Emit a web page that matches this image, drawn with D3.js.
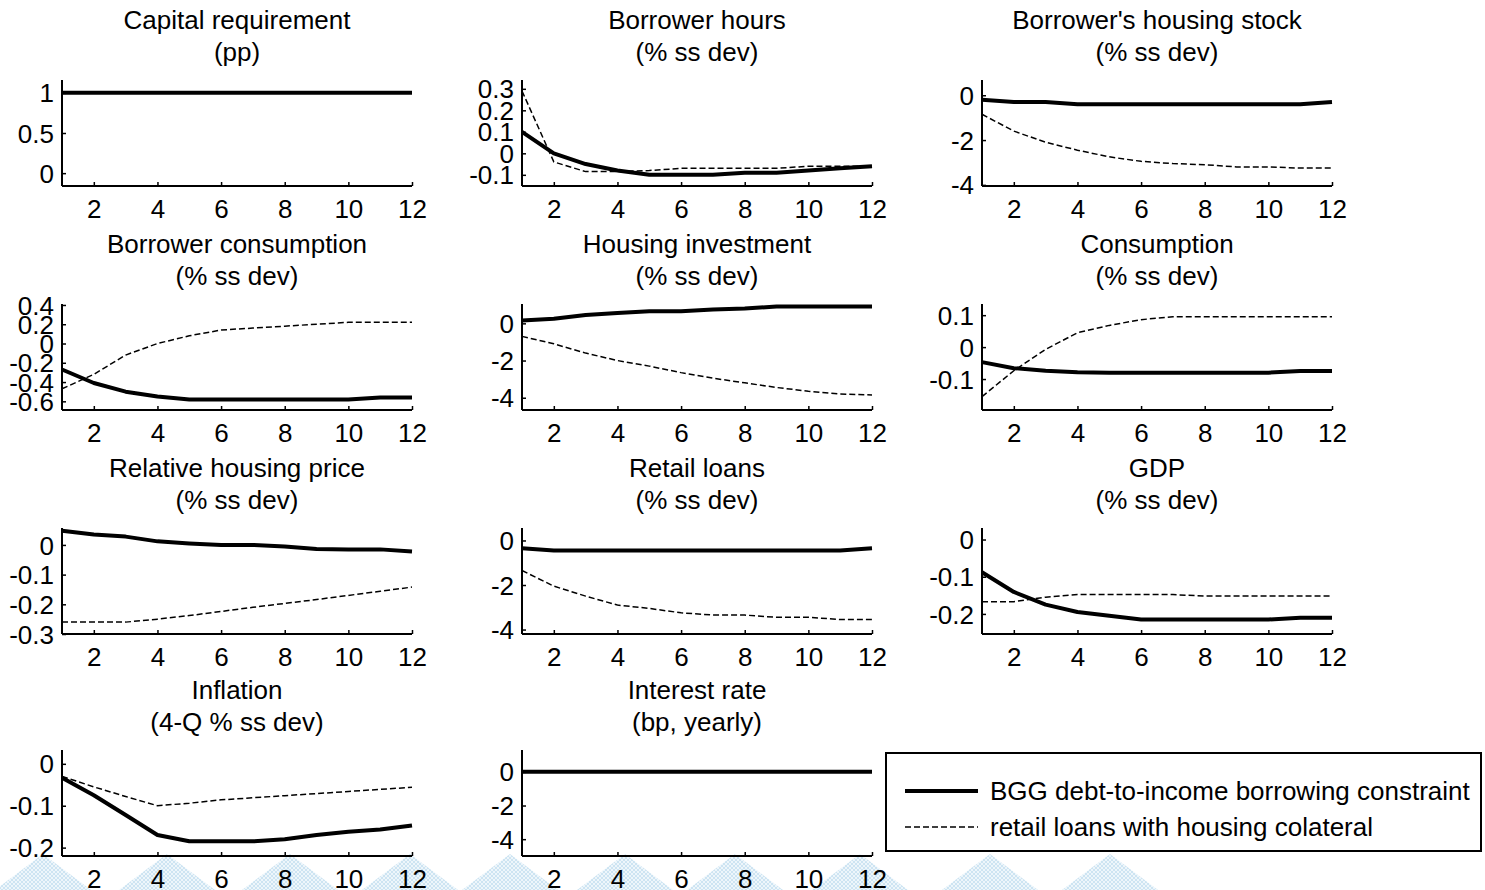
<!DOCTYPE html>
<meta charset="utf-8">
<script src="https://d3js.org/d3.v7.min.js"></script>
<style>
  body { margin: 0; background: #fff; }
  text { font-family: "Liberation Sans", Arial, sans-serif; fill: #000; }
</style>
<div id="chart"></div>
<script>
// quarters after the shock
const quarters = [1, 2, 3, 4, 5, 6, 7, 8, 9, 10, 11, 12];
const xTicks = [2, 4, 6, 8, 10, 12];

// solid = BGG debt-to-income, dashed = retail loans with housing collateral
const capReqBGG      = [1, 1, 1, 1, 1, 1, 1, 1, 1, 1, 1, 1];
const capReqRetail   = [1, 1, 1, 1, 1, 1, 1, 1, 1, 1, 1, 1];
const hoursBGG       = [0.10, 0.00, -0.05, -0.08, -0.10, -0.10, -0.10, -0.09, -0.09, -0.08, -0.07, -0.06];
const hoursRetail    = [0.29, -0.04, -0.085, -0.085, -0.08, -0.07, -0.07, -0.07, -0.07, -0.06, -0.06, -0.06];
const stockBGG       = [-0.2, -0.3, -0.3, -0.4, -0.4, -0.4, -0.4, -0.4, -0.4, -0.4, -0.4, -0.3];
const stockRetail    = [-0.85, -1.6, -2.1, -2.45, -2.75, -2.95, -3.05, -3.1, -3.2, -3.2, -3.25, -3.25];
const borrConsBGG    = [-0.27, -0.41, -0.5, -0.55, -0.58, -0.58, -0.58, -0.58, -0.58, -0.58, -0.56, -0.56];
const borrConsRetail = [-0.47, -0.32, -0.12, 0.0, 0.08, 0.14, 0.16, 0.18, 0.2, 0.22, 0.22, 0.22];
const housInvBGG     = [0.15, 0.25, 0.45, 0.55, 0.65, 0.65, 0.75, 0.8, 0.9, 0.9, 0.9, 0.9];
const housInvRetail  = [-0.7, -1.1, -1.6, -2.0, -2.3, -2.65, -2.95, -3.2, -3.45, -3.65, -3.8, -3.85];
const consBGG        = [-0.047, -0.066, -0.074, -0.079, -0.08, -0.08, -0.08, -0.08, -0.08, -0.08, -0.075, -0.075];
const consRetail     = [-0.155, -0.074, -0.007, 0.045, 0.068, 0.086, 0.095, 0.095, 0.095, 0.095, 0.095, 0.095];
const priceBGG       = [0.048, 0.035, 0.028, 0.012, 0.005, 0.0, 0.0, -0.005, -0.014, -0.015, -0.015, -0.022];
const priceRetail    = [-0.26, -0.26, -0.26, -0.25, -0.238, -0.224, -0.21, -0.197, -0.184, -0.17, -0.156, -0.142];
const loansBGG       = [-0.35, -0.45, -0.45, -0.45, -0.45, -0.45, -0.45, -0.45, -0.45, -0.45, -0.45, -0.35];
const loansRetail    = [-1.35, -2.05, -2.5, -2.9, -3.05, -3.25, -3.35, -3.35, -3.45, -3.45, -3.55, -3.55];
const gdpBGG         = [-0.088, -0.141, -0.175, -0.195, -0.205, -0.215, -0.215, -0.215, -0.215, -0.215, -0.21, -0.21];
const gdpRetail      = [-0.167, -0.167, -0.155, -0.148, -0.148, -0.148, -0.148, -0.152, -0.152, -0.152, -0.152, -0.152];
const inflBGG        = [-0.033, -0.075, -0.122, -0.17, -0.185, -0.185, -0.185, -0.18, -0.17, -0.162, -0.157, -0.147];
const inflRetail     = [-0.03, -0.055, -0.078, -0.1, -0.094, -0.086, -0.081, -0.076, -0.071, -0.066, -0.061, -0.056];
const rateBGG        = [0, 0, 0, 0, 0, 0, 0, 0, 0, 0, 0, 0];
const rateRetail     = [0, 0, 0, 0, 0, 0, 0, 0, 0, 0, 0, 0];

const titles = [
  ["Capital requirement", "(pp)"],
  ["Borrower hours", "(% ss dev)"],
  ["Borrower's housing stock", "(% ss dev)"],
  ["Borrower consumption", "(% ss dev)"],
  ["Housing investment", "(% ss dev)"],
  ["Consumption", "(% ss dev)"],
  ["Relative housing price", "(% ss dev)"],
  ["Retail loans", "(% ss dev)"],
  ["GDP", "(% ss dev)"],
  ["Inflation", "(4-Q % ss dev)"],
  ["Interest rate", "(bp, yearly)"]
];
const yDomains = [
  [-0.16, 1.16], [-0.152, 0.341], [-4.05, 0.68],
  [-0.69, 0.41], [-4.66, 1.04], [-0.197, 0.135],
  [-0.3, 0.057], [-4.2, 0.56], [-0.254, 0.031],
  [-0.22, 0.033], [-5, 1.3]
];
const yTicks = [
  [0, 0.5, 1], [-0.1, 0, 0.1, 0.2, 0.3], [-4, -2, 0],
  [-0.6, -0.4, -0.2, 0, 0.2, 0.4], [-4, -2, 0], [-0.1, 0, 0.1],
  [-0.3, -0.2, -0.1, 0], [-4, -2, 0], [-0.2, -0.1, 0],
  [-0.2, -0.1, 0], [-4, -2, 0]
];
const solidSeries = [capReqBGG, hoursBGG, stockBGG, borrConsBGG, housInvBGG, consBGG,
                     priceBGG, loansBGG, gdpBGG, inflBGG, rateBGG];
const dashedSeries = [capReqRetail, hoursRetail, stockRetail, borrConsRetail, housInvRetail, consRetail,
                      priceRetail, loansRetail, gdpRetail, inflRetail, rateRetail];
const legendLabels = ["BGG debt-to-income borrowing constraint", "retail loans with housing colateral"];

const W = 1485, H = 890;
const colLeft = [62, 522, 982], panelW = 350;
const rowTop = [80, 304, 528, 750], panelH = 106;
const fs = 26;

const svg = d3.select("#chart").append("svg")
  .attr("width", W).attr("height", H);

// faint hatched watermark along the bottom edge
const pat = svg.append("defs").append("pattern")
  .attr("id", "hatch").attr("width", 4).attr("height", 4)
  .attr("patternUnits", "userSpaceOnUse");
pat.append("rect").attr("width", 4).attr("height", 4).attr("fill", "#eef6fb");
pat.append("path").attr("d", "M0,4L4,0M0,0L4,4").attr("stroke", "#c4e0f0").attr("stroke-width", 0.8);
const wm = svg.append("g").attr("fill", "url(#hatch)");
[43, 167, 290, 410, 510, 625, 735, 860, 990, 1110].forEach(cx => {
  wm.append("path").attr("d", `M${cx - 48},${H} L${cx},${H - 36} L${cx + 48},${H} Z`);
});

const fmt = d => String(d);

titles.forEach((t, i) => {
  const c = i % 3, r = Math.floor(i / 3);
  const x0 = colLeft[c], y0 = rowTop[r];
  const g = svg.append("g").attr("transform", `translate(${x0},${y0})`);

  const x = d3.scaleLinear().domain([1, 12]).range([0, panelW]);
  const y = d3.scaleLinear().domain(yDomains[i]).range([panelH, 0]);

  g.selectAll("text.title").data(t).enter().append("text")
    .attr("x", panelW / 2)
    .attr("y", (d, k) => -51 + k * 32)
    .attr("text-anchor", "middle")
    .style("font-size", fs + "px")
    .text(d => d);

  const xAxis = g.append("g").attr("transform", `translate(0,${panelH})`)
    .call(d3.axisBottom(x).tickValues(xTicks).tickSize(-4).tickPadding(14).tickFormat(fmt));
  const yAxis = g.append("g")
    .call(d3.axisLeft(y).tickValues(yTicks[i]).tickSize(-4).tickPadding(8).tickFormat(fmt));

  [xAxis, yAxis].forEach(a => {
    a.select(".domain").attr("stroke", "#000").attr("stroke-width", 2)
      .attr("d", a === xAxis ? `M0,0H${panelW}` : `M0,0V${panelH}`);
    a.selectAll(".tick line").attr("stroke", "#000").attr("stroke-width", 1.5);
    a.selectAll(".tick text").style("font-size", fs + "px").attr("fill", "#000");
  });
  yAxis.selectAll(".tick text").attr("dy", "0.35em");
  xAxis.selectAll(".tick text").attr("dy", "0.68em");

  const line = d3.line().x((d, k) => x(quarters[k])).y(d => y(d));

  g.append("path").datum(solidSeries[i])
    .attr("fill", "none").attr("stroke", "#000").attr("stroke-width", 4)
    .attr("stroke-linejoin", "round").attr("d", line);
  g.append("path").datum(dashedSeries[i])
    .attr("fill", "none").attr("stroke", "#000").attr("stroke-width", 1.5)
    .attr("stroke-dasharray", "6,3").attr("d", line);
});

// legend
const lg = svg.append("g").attr("transform", "translate(886,753)");
lg.append("rect").attr("width", 595).attr("height", 98)
  .attr("fill", "#fff").attr("stroke", "#000").attr("stroke-width", 2);
legendLabels.forEach((lab, k) => {
  const yy = 38 + k * 36;
  lg.append("line").attr("x1", 19).attr("x2", 92).attr("y1", yy).attr("y2", yy)
    .attr("stroke", "#000").attr("stroke-width", k === 0 ? 4 : 1.5)
    .attr("stroke-dasharray", k === 0 ? null : "6,3");
  lg.append("text").attr("x", 104).attr("y", yy + 9)
    .style("font-size", fs + "px").text(lab);
});
</script>
